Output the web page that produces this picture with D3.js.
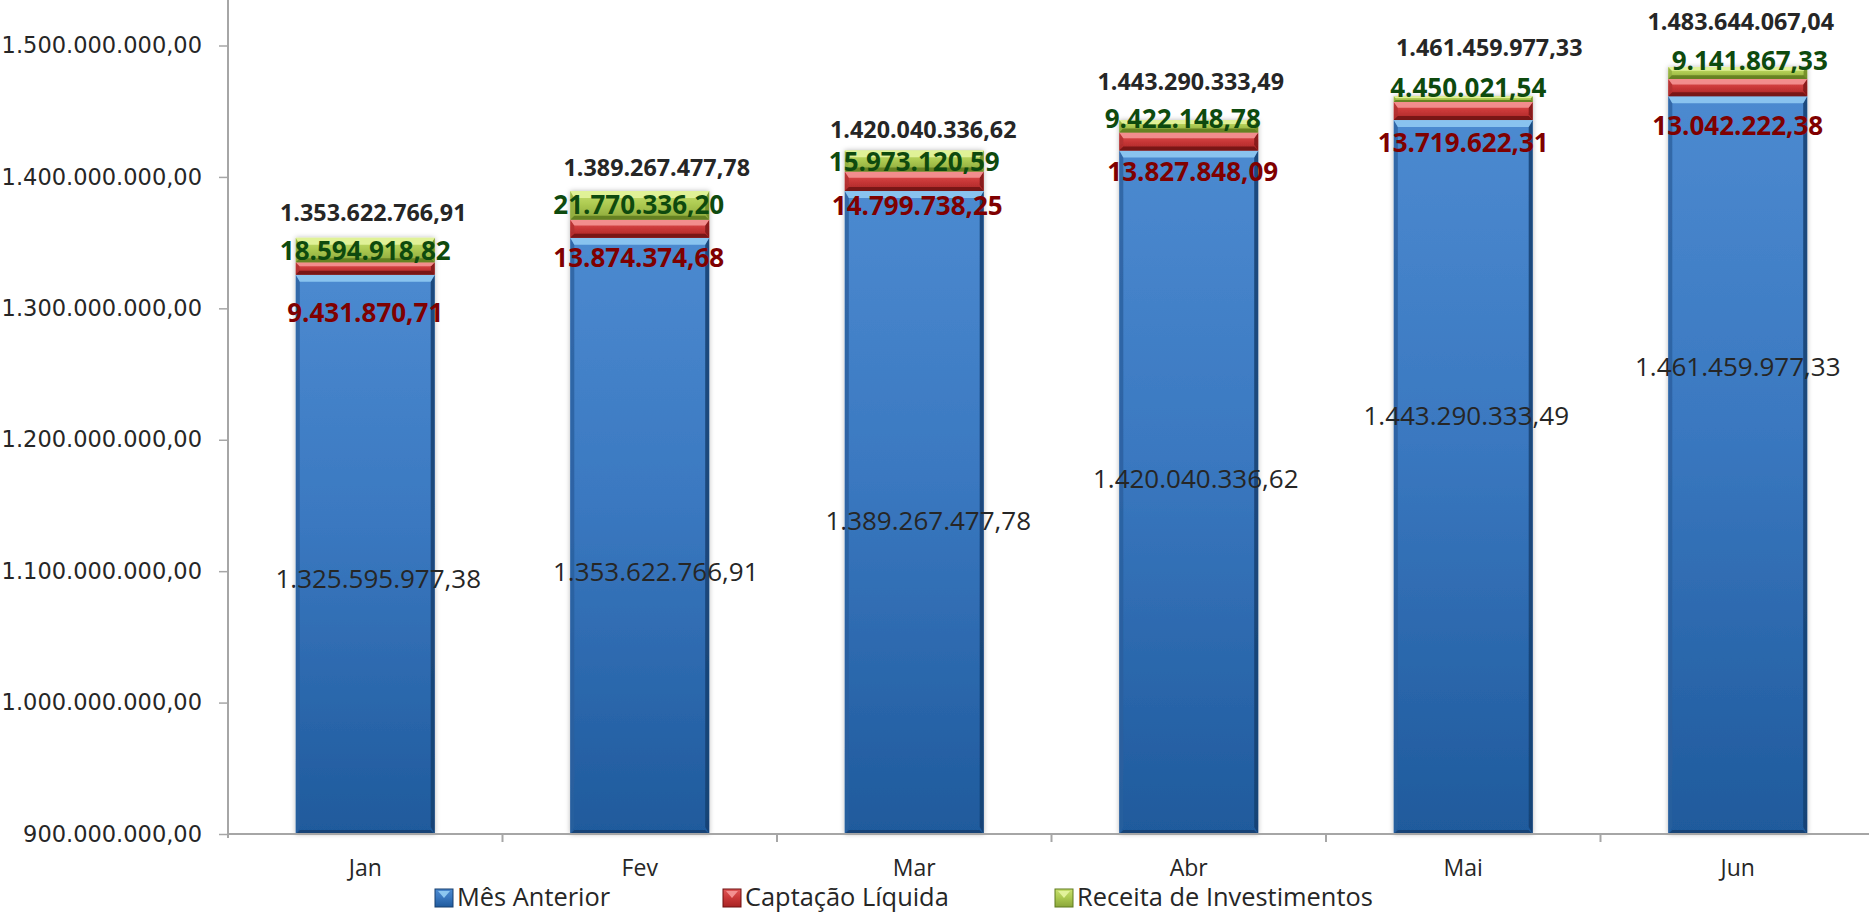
<!DOCTYPE html>
<html>
<head>
<meta charset="utf-8">
<script src="https://cdnjs.cloudflare.com/ajax/libs/d3/7.8.5/d3.min.js"></script>
<style>
  html, body { margin: 0; padding: 0; background: #ffffff; }
  svg { display: block; }
</style>
</head>
<body>
<svg id="chart" width="1869" height="912"></svg>
<script>
// ---------------- DATA ----------------
const categories = ["Jan", "Fev", "Mar", "Abr", "Mai", "Jun"];
const seriesNames = ["Mês Anterior", "Captação Líquida", "Receita de Investimentos"];
const mesAnterior = [1325595977.38, 1353622766.91, 1389267477.78, 1420040336.62, 1443290333.49, 1461459977.33];
const captacaoLiquida = [9431870.71, 13874374.68, 14799738.25, 13827848.09, 13719622.31, 13042222.38];
const receitaInvestimentos = [18594918.82, 21770336.20, 15973120.59, 9422148.78, 4450021.54, 9141867.33];
const totals = [1353622766.91, 1389267477.78, 1420040336.62, 1443290333.49, 1461459977.33, 1483644067.04];
const yTicks = [900e6, 1000e6, 1100e6, 1200e6, 1300e6, 1400e6, 1500e6];

// ---------------- LAYOUT (label anchors in data units, x nudges in px) ----------------
const labelAnchor = {
  total: [1372.6e6, 1406.8e6, 1435.8e6, 1472.5e6, 1498.6e6, 1518.0e6],
  green: [1343.9e6, 1378.7e6, 1411.4e6, 1444.1e6, 1467.7e6, 1488.7e6],
  red:   [1296.5e6, 1338.4e6, 1377.9e6, 1404.0e6, 1425.9e6, 1438.9e6],
  blue:  [1094.1e6, 1099.6e6, 1138.2e6, 1170.2e6, 1218.1e6, 1255.6e6]
};
const labelNudge = {
  total: [8, 17, 9, 2, 26, 3],
  green: [0, -1, 0, -6, 5, 12],
  red:   [0, -1, 3, 4, 0, 0],
  blue:  [13, 16, 14, 7, 3, 0]
};
const legendX = [435, 723, 1055];

// ---------------- SETUP ----------------
const svg = d3.select("#chart");
const W = 1869, H = 912;
const plotLeft = 228, plotRight = 1875, baseY = 834, topY = 45.5;

const locale = d3.formatLocale({ decimal: ",", thousands: ".", grouping: [3], currency: ["R$", ""] });
const fmt = locale.format(",.2f");

const x = d3.scaleBand().domain(categories).range([plotLeft, plotRight]).padding(0);
const barW = x.bandwidth() * 0.506;
const y = d3.scaleLinear().domain([900e6, 1500e6]).range([baseY, topY]);

const defs = svg.append("defs");
const palettes = [
  { id: "blue",  stops: ["#4c8ad0", "#3a78c0", "#1f5a9c"], top: "#8cc6f0", left: "#2a5f9e", right: "#163f70", bottom: "#173f6e" },
  { id: "red",   stops: ["#e05858", "#cc3a3a", "#a82424"], top: "#f39090", left: "#b03030", right: "#7e1616", bottom: "#6e1010" },
  { id: "green", stops: ["#c8e070", "#aecb52", "#8aa63a"], top: "#e2f29a", left: "#92ae3e", right: "#6e8a26", bottom: "#5e7a1e" }
];
palettes.forEach(p => {
  const g = defs.append("linearGradient").attr("id", "grad-" + p.id)
    .attr("x1", 0).attr("y1", 0).attr("x2", 0).attr("y2", 1);
  g.append("stop").attr("offset", "0%").attr("stop-color", p.stops[0]);
  g.append("stop").attr("offset", "45%").attr("stop-color", p.stops[1]);
  g.append("stop").attr("offset", "100%").attr("stop-color", p.stops[2]);
});
const filt = defs.append("filter").attr("id", "shadow").attr("x", "-10%").attr("y", "-10%").attr("width", "120%").attr("height", "120%");
filt.append("feDropShadow").attr("dx", 0).attr("dy", 0).attr("stdDeviation", 2.5)
  .attr("flood-color", "#000").attr("flood-opacity", 0.28);

function bevelRect(g, bx, by, bw, bh, p) {
  if (bh <= 0) return;
  const bt = Math.min(7, bh * 0.32);
  const bs = Math.min(4, bh * 0.3);
  const x0 = bx, x1 = bx + bw, y0 = by, y1 = by + bh;
  g.append("rect").attr("x", x0).attr("y", y0).attr("width", bw).attr("height", bh)
    .attr("fill", `url(#grad-${p.id})`);
  const poly = (pts, fill, op) => g.append("polygon")
    .attr("points", pts.map(d => d.join(",")).join(" ")).attr("fill", fill).attr("opacity", op);
  poly([[x0, y0], [x0 + bs, y0 + bt], [x0 + bs, y1 - bt], [x0, y1]], p.left, 0.8);
  poly([[x1, y0], [x1 - bs, y0 + bt], [x1 - bs, y1 - bt], [x1, y1]], p.right, 0.85);
  poly([[x0, y1], [x0 + bs, y1 - Math.min(bt, 4)], [x1 - bs, y1 - Math.min(bt, 4)], [x1, y1]], p.bottom, 0.85);
  poly([[x0, y0], [x1, y0], [x1 - bs, y0 + bt], [x0 + bs, y0 + bt]], p.top, 0.95);
}

// ---------------- BARS ----------------
const barsG = svg.append("g");
categories.forEach((c, i) => {
  const bx = x(c) + (x.bandwidth() - barW) / 2;
  const g = barsG.append("g").attr("filter", "url(#shadow)");
  const v0 = mesAnterior[i];
  const v1 = v0 + captacaoLiquida[i];
  const v2 = v1 + receitaInvestimentos[i];
  bevelRect(g, bx, y(v0), barW, y(900e6) - y(v0), palettes[0]);
  bevelRect(g, bx, y(v1), barW, y(v0) - y(v1), palettes[1]);
  bevelRect(g, bx, y(v2), barW, y(v1) - y(v2), palettes[2]);
});

// ---------------- AXES ----------------
const axisColor = "#a6a6a6";
const yAxis = svg.append("g").attr("transform", `translate(${plotLeft},0)`)
  .call(d3.axisLeft(y).tickValues(yTicks).tickFormat(fmt).tickSize(9).tickPadding(17));
yAxis.select(".domain").remove();
yAxis.selectAll(".tick line").attr("stroke", axisColor).attr("stroke-width", 1.5);
yAxis.selectAll(".tick text")
  .attr("font-family", "'DejaVu Sans', sans-serif").attr("font-size", 22.5).attr("fill", "#262626");
svg.append("line").attr("x1", plotLeft).attr("x2", plotLeft).attr("y1", 0).attr("y2", baseY + 4)
  .attr("stroke", axisColor).attr("stroke-width", 2);

const xAxis = svg.append("g").attr("transform", `translate(0,${baseY})`)
  .call(d3.axisBottom(x).tickSize(0).tickPadding(26));
xAxis.select(".domain").remove();
xAxis.selectAll(".tick text")
  .attr("font-family", "'Open Sans', sans-serif").attr("font-size", 23).attr("fill", "#262626");
svg.append("line").attr("x1", plotLeft).attr("x2", W).attr("y1", baseY).attr("y2", baseY)
  .attr("stroke", axisColor).attr("stroke-width", 2);
svg.append("g").selectAll("line").data(categories.slice(1)).join("line")
  .attr("x1", d => x(d)).attr("x2", d => x(d)).attr("y1", baseY).attr("y2", baseY + 8)
  .attr("stroke", axisColor).attr("stroke-width", 2);

// ---------------- LABELS ----------------
const lab = svg.append("g").attr("font-family", "'Open Sans', sans-serif").attr("text-anchor", "middle");
function addLabels(vals, anchorKey, opts) {
  lab.append("g").selectAll("text").data(vals).join("text")
    .attr("x", (d, i) => x(categories[i]) + x.bandwidth() / 2 + labelNudge[anchorKey][i])
    .attr("y", (d, i) => y(labelAnchor[anchorKey][i]))
    .attr("dy", "0.36em")
    .attr("font-size", opts.size).attr("font-weight", opts.weight).attr("fill", opts.color)
    .text(d => fmt(d));
}
addLabels(mesAnterior, "blue", { size: 26, weight: 400, color: "#262626" });
addLabels(captacaoLiquida, "red", { size: 26, weight: 700, color: "#7f0000" });
addLabels(receitaInvestimentos, "green", { size: 26, weight: 700, color: "#0e4a0e" });
addLabels(totals, "total", { size: 23.3, weight: 700, color: "#262626" });

// ---------------- LEGEND ----------------
const leg = svg.append("g");
seriesNames.forEach((name, i) => {
  const p = palettes[i];
  const lx = legendX[i], ly = 889;
  const g = leg.append("g");
  g.append("rect").attr("x", lx).attr("y", ly).attr("width", 18).attr("height", 18)
    .attr("fill", `url(#grad-${p.id})`).attr("stroke", p.bottom).attr("stroke-width", 1);
  g.append("polygon").attr("points", `${lx + 3},${ly + 2} ${lx + 15},${ly + 2} ${lx + 9},${ly + 9}`)
    .attr("fill", p.top);
  g.append("text").attr("x", lx + 22).attr("y", 906)
    .attr("font-family", "'Open Sans', sans-serif").attr("font-size", 25.4).attr("fill", "#262626")
    .text(name);
});
</script>
</body>
</html>
